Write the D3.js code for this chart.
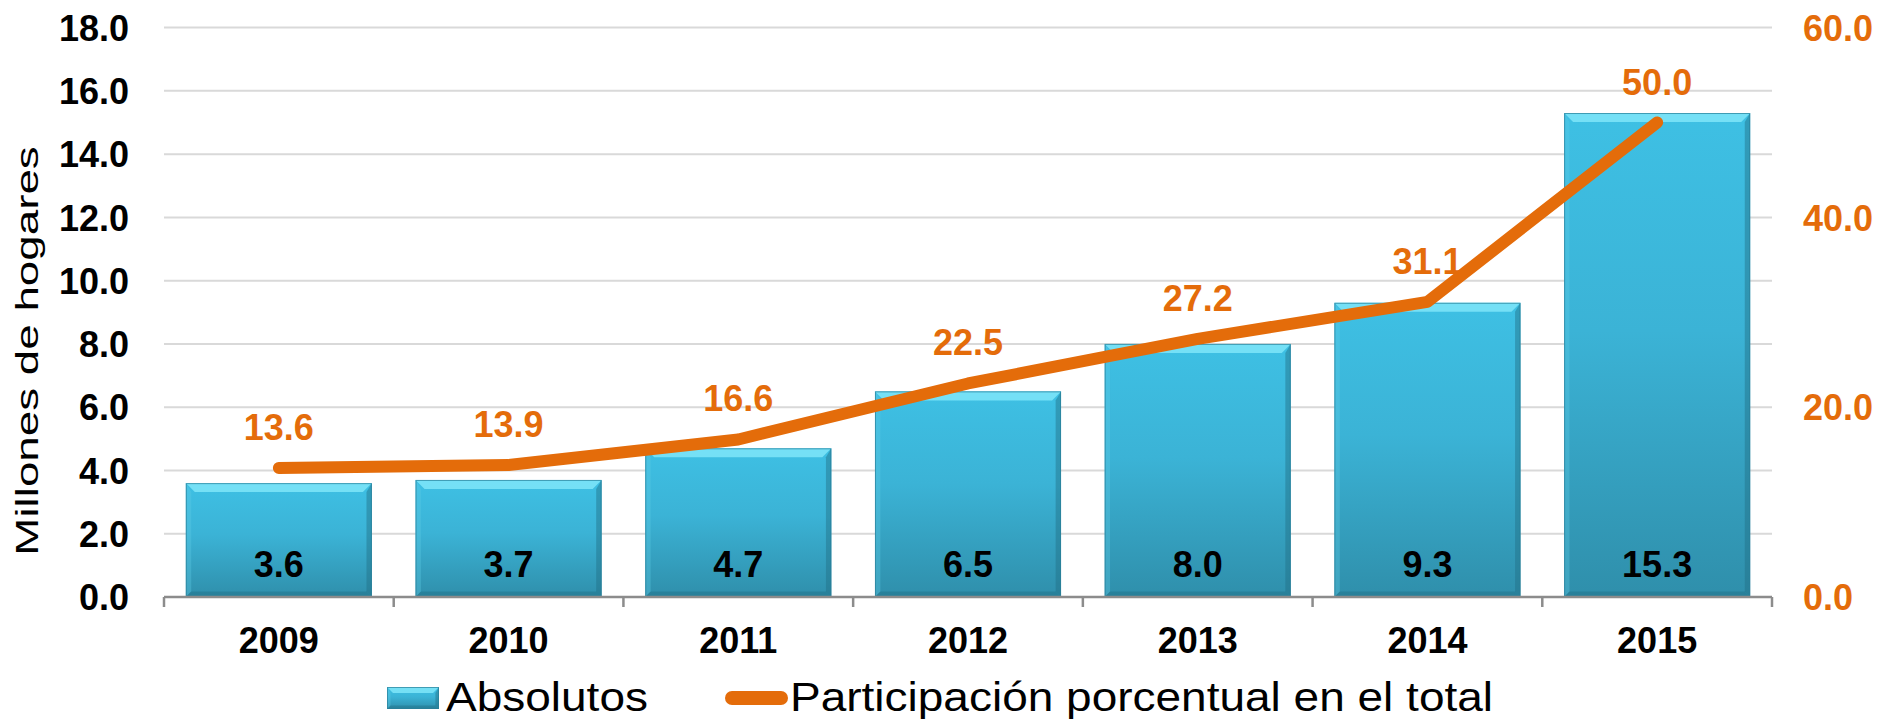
<!DOCTYPE html>
<html>
<head>
<meta charset="utf-8">
<script src="https://cdn.jsdelivr.net/npm/d3@7"></script>
<style>
  body { margin: 0; background: #fff; }
  svg { display: block; font-family: "Liberation Sans", Arial, sans-serif; }
</style>
</head>
<body>
<svg id="chart"></svg>
<script>
// datos
const years = ['2009', '2010', '2011', '2012', '2013', '2014', '2015'];
const absolutos = [3.6, 3.7, 4.7, 6.5, 8.0, 9.3, 15.3];
const participacion = [13.6, 13.9, 16.6, 22.5, 27.2, 31.1, 50.0];
const leftTicks = [0, 2, 4, 6, 8, 10, 12, 14, 16, 18];
const rightTicks = [0, 20, 40, 60];
const legendLabels = ['Absolutos', 'Participación porcentual en el total'];

const width = 1881, height = 721;
const plot = { left: 164, right: 1772, top: 27.6, bottom: 597 };
const orange = '#E46C0A';

const svg = d3.select('#chart').attr('width', width).attr('height', height);

// escalas
const x = d3.scaleBand()
  .domain(years)
  .range([plot.left, plot.right])
  .paddingInner(0.19)
  .paddingOuter(0.095);

const y = d3.scaleLinear().domain([0, 18]).range([plot.bottom, plot.top]);
const y2 = d3.scaleLinear().domain([0, 60]).range([plot.bottom, plot.top]);

// gradiente de barras
const defs = svg.append('defs');
const grad = defs.append('linearGradient')
  .attr('id', 'barGrad').attr('x1', 0).attr('y1', 0).attr('x2', 0).attr('y2', 1);
grad.append('stop').attr('offset', '0%').attr('stop-color', '#3EC0E4');
grad.append('stop').attr('offset', '45%').attr('stop-color', '#3BB3D6');
grad.append('stop').attr('offset', '100%').attr('stop-color', '#2F8FAB');

// lineas de cuadricula
svg.append('g')
  .selectAll('line')
  .data(leftTicks.filter(d => d > 0))
  .join('line')
  .attr('x1', plot.left).attr('x2', plot.right)
  .attr('y1', d => y(d)).attr('y2', d => y(d))
  .attr('stroke', '#D9D9D9').attr('stroke-width', 2);

// eje y izquierdo
const yAxis = svg.append('g')
  .attr('transform', `translate(${plot.left - 35},0)`)
  .call(d3.axisLeft(y).tickValues(leftTicks).tickFormat(d3.format('.1f')).tickSize(0));
yAxis.select('.domain').remove();
yAxis.selectAll('text')
  .attr('x', 0).attr('dy', '0.35em')
  .attr('font-size', 36).attr('font-weight', 'bold').attr('fill', '#000')
  .attr('font-family', '"Liberation Sans", Arial, sans-serif');

// eje y derecho
const y2Axis = svg.append('g')
  .attr('transform', `translate(${plot.right + 31},0)`)
  .call(d3.axisRight(y2).tickValues(rightTicks).tickFormat(d3.format('.1f')).tickSize(0));
y2Axis.select('.domain').remove();
y2Axis.selectAll('text')
  .attr('x', 0).attr('dy', '0.35em')
  .attr('font-size', 36).attr('font-weight', 'bold').attr('fill', orange)
  .attr('font-family', '"Liberation Sans", Arial, sans-serif');

// titulo eje y
svg.append('text')
  .attr('transform', 'translate(38,351) rotate(-90) scale(1.43,1)')
  .attr('text-anchor', 'middle')
  .attr('font-size', 32)
  .attr('fill', '#000')
  .text('Millones de hogares');

// barras con bisel
function bevelBar(g, bx, by, bw, bh, b) {
  g.append('rect').attr('x', bx).attr('y', by).attr('width', bw).attr('height', bh)
    .attr('fill', 'url(#barGrad)');
  // arriba
  g.append('path')
    .attr('d', `M${bx},${by}L${bx + bw},${by}L${bx + bw - b},${by + b}L${bx + b},${by + b}Z`)
    .attr('fill', '#7BE3F7').attr('opacity', 0.9);
  // izquierda
  g.append('path')
    .attr('d', `M${bx},${by}L${bx + b * 0.6},${by + b}L${bx + b * 0.6},${by + bh - b * 0.6}L${bx},${by + bh}Z`)
    .attr('fill', '#5FCBE6').attr('opacity', 0.35);
  // derecha
  g.append('path')
    .attr('d', `M${bx + bw},${by}L${bx + bw - b * 0.6},${by + b}L${bx + bw - b * 0.6},${by + bh - b * 0.6}L${bx + bw},${by + bh}Z`)
    .attr('fill', '#226F86').attr('opacity', 0.45);
  // abajo
  g.append('path')
    .attr('d', `M${bx},${by + bh}L${bx + b * 0.6},${by + bh - b * 0.6}L${bx + bw - b * 0.6},${by + bh - b * 0.6}L${bx + bw},${by + bh}Z`)
    .attr('fill', '#226F86').attr('opacity', 0.45);
  g.append('rect').attr('x', bx + 0.5).attr('y', by + 0.5).attr('width', bw - 1).attr('height', bh - 1)
    .attr('fill', 'none').attr('stroke', '#2A7F98').attr('stroke-width', 1).attr('opacity', 0.7);
}

const bars = svg.append('g');
absolutos.forEach((v, i) => {
  const g = bars.append('g');
  bevelBar(g, x(years[i]), y(v), x.bandwidth(), y(0) - y(v), 9);
});

// etiquetas de barras
svg.append('g')
  .selectAll('text')
  .data(absolutos)
  .join('text')
  .attr('x', (d, i) => x(years[i]) + x.bandwidth() / 2)
  .attr('y', plot.bottom - 20)
  .attr('text-anchor', 'middle')
  .attr('font-size', 36).attr('font-weight', 'bold').attr('fill', '#000')
  .text(d => d.toFixed(1));

// eje x
const xAxis = svg.append('g')
  .attr('transform', `translate(0,${plot.bottom})`)
  .call(d3.axisBottom(x).tickSize(0).tickPadding(56));
xAxis.select('.domain').attr('stroke', '#8C8C8C').attr('stroke-width', 2.5)
  .attr('d', `M${plot.left},0H${plot.right}`);
xAxis.selectAll('text')
  .attr('font-size', 36).attr('font-weight', 'bold').attr('fill', '#000')
  .attr('font-family', '"Liberation Sans", Arial, sans-serif')
  .attr('dy', 0);
// marcas entre categorias
const edges = years.map(d => x(d) - x.step() * x.paddingInner() / 2).concat([plot.right]);
xAxis.selectAll('.sep')
  .data(edges)
  .join('line')
  .attr('class', 'sep')
  .attr('x1', d => d).attr('x2', d => d)
  .attr('y1', 0).attr('y2', 10)
  .attr('stroke', '#8C8C8C').attr('stroke-width', 2.5);

// etiquetas de la linea
const cx = i => x(years[i]) + x.bandwidth() / 2;
svg.append('g')
  .selectAll('text')
  .data(participacion)
  .join('text')
  .attr('x', (d, i) => cx(i))
  .attr('y', d => y2(d) - 28)
  .attr('text-anchor', 'middle')
  .attr('font-size', 36).attr('font-weight', 'bold').attr('fill', orange)
  .text(d => d.toFixed(1));

// linea
const line = d3.line().x((d, i) => cx(i)).y(d => y2(d));
svg.append('path')
  .datum(participacion)
  .attr('d', line)
  .attr('fill', 'none')
  .attr('stroke', orange)
  .attr('stroke-width', 12)
  .attr('stroke-linecap', 'round')
  .attr('stroke-linejoin', 'round');

// leyenda
const legend = svg.append('g');
bevelBar(legend.append('g'), 387, 687, 52, 22, 6);
legend.append('text')
  .attr('transform', 'translate(446,711) scale(1.15,1)')
  .attr('font-size', 40).attr('fill', '#000')
  .text(legendLabels[0]);
legend.append('line')
  .attr('x1', 732).attr('x2', 781).attr('y1', 698).attr('y2', 698)
  .attr('stroke', orange).attr('stroke-width', 14).attr('stroke-linecap', 'round');
legend.append('text')
  .attr('transform', 'translate(790,711) scale(1.15,1)')
  .attr('font-size', 40).attr('fill', '#000')
  .text(legendLabels[1]);
</script>
</body>
</html>
